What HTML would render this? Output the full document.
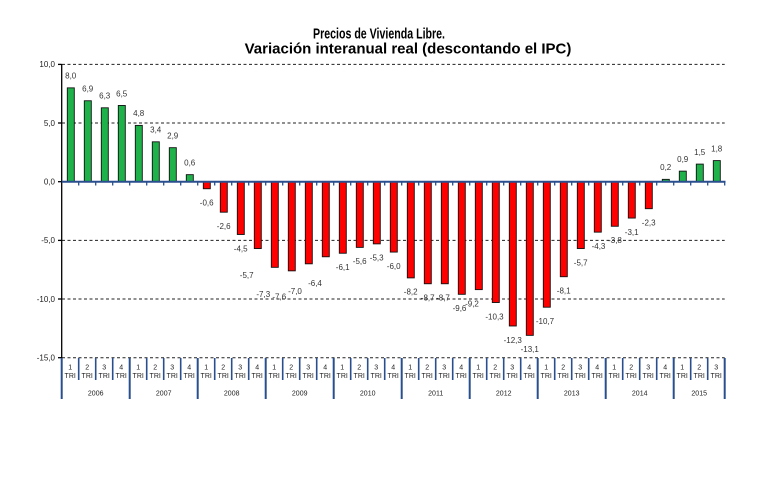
<!DOCTYPE html>
<html><head><meta charset="utf-8"><style>
html,body{margin:0;padding:0;background:#fff;}
svg{display:block;}
text{font-family:"Liberation Sans",Arial,sans-serif;}
.v{font-size:8px;fill:#333;text-anchor:middle;}
.y{font-size:8px;fill:#222;text-anchor:end;}
.q{font-size:7px;fill:#222;text-anchor:middle;}
</style></head><body>
<svg width="770" height="492" viewBox="0 0 770 492" xmlns="http://www.w3.org/2000/svg">
<rect width="770" height="492" fill="#fff"/>
<text x="313" y="38.5" font-size="15" font-weight="bold" fill="#000" textLength="132" lengthAdjust="spacingAndGlyphs">Precios de Vivienda Libre.</text>
<text x="408" y="53.5" font-size="15" font-weight="bold" text-anchor="middle" fill="#000">Variación interanual real (descontando el IPC)</text>

<!-- gridlines -->
<g stroke="#222" stroke-width="1" stroke-dasharray="3,2.5">
<line x1="62" y1="64.4" x2="724.7" y2="64.4"/>
<line x1="62" y1="123" x2="724.7" y2="123"/>
<line x1="62" y1="240.4" x2="724.7" y2="240.4"/>
<line x1="62" y1="299" x2="724.7" y2="299"/>
<line x1="62" y1="357.7" x2="724.7" y2="357.7"/>
</g>

<!-- y axis -->
<g stroke="#000" stroke-width="1.3">
<line x1="61.7" y1="64" x2="61.7" y2="358"/>
<line x1="58" y1="64.4" x2="61.7" y2="64.4"/>
<line x1="58" y1="123" x2="61.7" y2="123"/>
<line x1="58" y1="181.7" x2="61.7" y2="181.7"/>
<line x1="58" y1="240.4" x2="61.7" y2="240.4"/>
<line x1="58" y1="299" x2="61.7" y2="299"/>
<line x1="58" y1="357.7" x2="61.7" y2="357.7"/>
</g>
<text class="y" x="55" y="67.2">10,0</text>
<text class="y" x="55" y="125.8">5,0</text>
<text class="y" x="55" y="184.5">0,0</text>
<text class="y" x="55" y="243.2">-5,0</text>
<text class="y" x="55" y="301.8">-10,0</text>
<text class="y" x="55" y="360.5">-15,0</text>

<!-- bars -->
<g stroke="#111" stroke-width="0.9">
<g fill="#1fb24a">
<rect x="67.3" y="87.86" width="7" height="93.84"/>
<rect x="84.3" y="100.76" width="7" height="80.94"/>
<rect x="101.3" y="107.8" width="7" height="73.9"/>
<rect x="118.3" y="105.45" width="7" height="76.25"/>
<rect x="135.3" y="125.4" width="7" height="56.3"/>
<rect x="152.3" y="141.82" width="7" height="39.88"/>
<rect x="169.3" y="147.68" width="7" height="34.02"/>
<rect x="186.3" y="174.66" width="7" height="7.04"/>
<rect x="662.3" y="179.35" width="7" height="2.35"/>
<rect x="679.3" y="171.14" width="7" height="10.56"/>
<rect x="696.3" y="164.1" width="7" height="17.6"/>
<rect x="713.3" y="160.59" width="7" height="21.11"/>
</g>
<g fill="#ff0000">
<rect x="203.3" y="181.7" width="7" height="7.04"/>
<rect x="220.3" y="181.7" width="7" height="30.5"/>
<rect x="237.3" y="181.7" width="7" height="52.79"/>
<rect x="254.3" y="181.7" width="7" height="66.86"/>
<rect x="271.3" y="181.7" width="7" height="85.63"/>
<rect x="288.3" y="181.7" width="7" height="89.15"/>
<rect x="305.3" y="181.7" width="7" height="82.11"/>
<rect x="322.3" y="181.7" width="7" height="75.07"/>
<rect x="339.3" y="181.7" width="7" height="71.55"/>
<rect x="356.3" y="181.7" width="7" height="65.69"/>
<rect x="373.3" y="181.7" width="7" height="62.17"/>
<rect x="390.3" y="181.7" width="7" height="70.38"/>
<rect x="407.3" y="181.7" width="7" height="96.19"/>
<rect x="424.3" y="181.7" width="7" height="102.05"/>
<rect x="441.3" y="181.7" width="7" height="102.05"/>
<rect x="458.3" y="181.7" width="7" height="112.61"/>
<rect x="475.3" y="181.7" width="7" height="107.92"/>
<rect x="492.3" y="181.7" width="7" height="120.82"/>
<rect x="509.3" y="181.7" width="7" height="144.28"/>
<rect x="526.3" y="181.7" width="7" height="153.66"/>
<rect x="543.3" y="181.7" width="7" height="125.51"/>
<rect x="560.3" y="181.7" width="7" height="95.01"/>
<rect x="577.3" y="181.7" width="7" height="66.86"/>
<rect x="594.3" y="181.7" width="7" height="50.44"/>
<rect x="611.3" y="181.7" width="7" height="44.57"/>
<rect x="628.3" y="181.7" width="7" height="36.36"/>
<rect x="645.3" y="181.7" width="7" height="26.98"/>
</g>
</g>

<!-- zero line -->
<line x1="61.7" y1="181.7" x2="725.5" y2="181.7" stroke="#2a4f8f" stroke-width="2"/>
<g stroke="#2a4f8f" stroke-width="1.3">
<line x1="78.7" y1="182" x2="78.7" y2="185.5"/><line x1="95.7" y1="182" x2="95.7" y2="185.5"/><line x1="112.7" y1="182" x2="112.7" y2="185.5"/><line x1="129.7" y1="182" x2="129.7" y2="185.5"/><line x1="146.7" y1="182" x2="146.7" y2="185.5"/><line x1="163.7" y1="182" x2="163.7" y2="185.5"/><line x1="180.7" y1="182" x2="180.7" y2="185.5"/><line x1="197.7" y1="182" x2="197.7" y2="185.5"/><line x1="214.7" y1="182" x2="214.7" y2="185.5"/><line x1="231.7" y1="182" x2="231.7" y2="185.5"/><line x1="248.7" y1="182" x2="248.7" y2="185.5"/><line x1="265.7" y1="182" x2="265.7" y2="185.5"/><line x1="282.7" y1="182" x2="282.7" y2="185.5"/><line x1="299.7" y1="182" x2="299.7" y2="185.5"/><line x1="316.7" y1="182" x2="316.7" y2="185.5"/><line x1="333.7" y1="182" x2="333.7" y2="185.5"/><line x1="350.7" y1="182" x2="350.7" y2="185.5"/><line x1="367.7" y1="182" x2="367.7" y2="185.5"/><line x1="384.7" y1="182" x2="384.7" y2="185.5"/><line x1="401.7" y1="182" x2="401.7" y2="185.5"/><line x1="418.7" y1="182" x2="418.7" y2="185.5"/><line x1="435.7" y1="182" x2="435.7" y2="185.5"/><line x1="452.7" y1="182" x2="452.7" y2="185.5"/><line x1="469.7" y1="182" x2="469.7" y2="185.5"/><line x1="486.7" y1="182" x2="486.7" y2="185.5"/><line x1="503.7" y1="182" x2="503.7" y2="185.5"/><line x1="520.7" y1="182" x2="520.7" y2="185.5"/><line x1="537.7" y1="182" x2="537.7" y2="185.5"/><line x1="554.7" y1="182" x2="554.7" y2="185.5"/><line x1="571.7" y1="182" x2="571.7" y2="185.5"/><line x1="588.7" y1="182" x2="588.7" y2="185.5"/><line x1="605.7" y1="182" x2="605.7" y2="185.5"/><line x1="622.7" y1="182" x2="622.7" y2="185.5"/><line x1="639.7" y1="182" x2="639.7" y2="185.5"/><line x1="656.7" y1="182" x2="656.7" y2="185.5"/><line x1="673.7" y1="182" x2="673.7" y2="185.5"/><line x1="690.7" y1="182" x2="690.7" y2="185.5"/><line x1="707.7" y1="182" x2="707.7" y2="185.5"/><line x1="724.7" y1="182" x2="724.7" y2="185.5"/>
</g>

<!-- value labels -->
<text class="v" x="70.7" y="78.7">8,0</text>
<text class="v" x="87.7" y="91.6">6,9</text>
<text class="v" x="104.7" y="98.6">6,3</text>
<text class="v" x="121.7" y="96.3">6,5</text>
<text class="v" x="138.7" y="116.2">4,8</text>
<text class="v" x="155.7" y="132.6">3,4</text>
<text class="v" x="172.7" y="138.5">2,9</text>
<text class="v" x="189.7" y="165.5">0,6</text>
<text class="v" x="206.7" y="205.5">-0,6</text>
<text class="v" x="223.7" y="229.0">-2,6</text>
<text class="v" x="240.7" y="251.3">-4,5</text>
<text class="v" x="246.7" y="277.8">-5,7</text>
<text class="v" x="263.3" y="297.1">-7,3</text>
<text class="v" x="279.3" y="299.5">-7,6</text>
<text class="v" x="295" y="293.8">-7,0</text>
<text class="v" x="315" y="286.1">-6,4</text>
<text class="v" x="342.7" y="270.1">-6,1</text>
<text class="v" x="359.7" y="264.2">-5,6</text>
<text class="v" x="376.7" y="260.7">-5,3</text>
<text class="v" x="393.7" y="268.9">-6,0</text>
<text class="v" x="410.7" y="294.7">-8,2</text>
<text class="v" x="427.7" y="300.5">-8,7</text>
<text class="v" x="443" y="300.5">-8,7</text>
<text class="v" x="459.5" y="311.1">-9,6</text>
<text class="v" x="472" y="306.4">-9,2</text>
<text class="v" x="494.5" y="319.3">-10,3</text>
<text class="v" x="512.7" y="342.8">-12,3</text>
<text class="v" x="529.7" y="352.2">-13,1</text>
<text class="v" x="545" y="324.0">-10,7</text>
<text class="v" x="563.7" y="293.5">-8,1</text>
<text class="v" x="580.7" y="265.4">-5,7</text>
<text class="v" x="598.5" y="248.9">-4,3</text>
<text class="v" x="615" y="243.1">-3,8</text>
<text class="v" x="631.7" y="234.9">-3,1</text>
<text class="v" x="648.7" y="225.5">-2,3</text>
<text class="v" x="665.7" y="170.2">0,2</text>
<text class="v" x="682.7" y="161.9">0,9</text>
<text class="v" x="699.7" y="154.9">1,5</text>
<text class="v" x="716.7" y="151.4">1,8</text>

<!-- category separators -->
<g stroke="#2a4f8f" stroke-width="2">
<line x1="61.7" y1="358" x2="61.7" y2="399"/>
<line x1="129.7" y1="358" x2="129.7" y2="399"/>
<line x1="197.7" y1="358" x2="197.7" y2="399"/>
<line x1="265.7" y1="358" x2="265.7" y2="399"/>
<line x1="333.7" y1="358" x2="333.7" y2="399"/>
<line x1="401.7" y1="358" x2="401.7" y2="399"/>
<line x1="469.7" y1="358" x2="469.7" y2="399"/>
<line x1="537.7" y1="358" x2="537.7" y2="399"/>
<line x1="605.7" y1="358" x2="605.7" y2="399"/>
<line x1="673.7" y1="358" x2="673.7" y2="399"/>
<line x1="724.7" y1="358" x2="724.7" y2="399"/>
</g>
<g stroke="#2a4f8f" stroke-width="1.6">
<line x1="78.7" y1="358" x2="78.7" y2="380"/><line x1="95.7" y1="358" x2="95.7" y2="380"/><line x1="112.7" y1="358" x2="112.7" y2="380"/>
<line x1="146.7" y1="358" x2="146.7" y2="380"/><line x1="163.7" y1="358" x2="163.7" y2="380"/><line x1="180.7" y1="358" x2="180.7" y2="380"/>
<line x1="214.7" y1="358" x2="214.7" y2="380"/><line x1="231.7" y1="358" x2="231.7" y2="380"/><line x1="248.7" y1="358" x2="248.7" y2="380"/>
<line x1="282.7" y1="358" x2="282.7" y2="380"/><line x1="299.7" y1="358" x2="299.7" y2="380"/><line x1="316.7" y1="358" x2="316.7" y2="380"/>
<line x1="350.7" y1="358" x2="350.7" y2="380"/><line x1="367.7" y1="358" x2="367.7" y2="380"/><line x1="384.7" y1="358" x2="384.7" y2="380"/>
<line x1="418.7" y1="358" x2="418.7" y2="380"/><line x1="435.7" y1="358" x2="435.7" y2="380"/><line x1="452.7" y1="358" x2="452.7" y2="380"/>
<line x1="486.7" y1="358" x2="486.7" y2="380"/><line x1="503.7" y1="358" x2="503.7" y2="380"/><line x1="520.7" y1="358" x2="520.7" y2="380"/>
<line x1="554.7" y1="358" x2="554.7" y2="380"/><line x1="571.7" y1="358" x2="571.7" y2="380"/><line x1="588.7" y1="358" x2="588.7" y2="380"/>
<line x1="622.7" y1="358" x2="622.7" y2="380"/><line x1="639.7" y1="358" x2="639.7" y2="380"/><line x1="656.7" y1="358" x2="656.7" y2="380"/>
<line x1="690.7" y1="358" x2="690.7" y2="380"/><line x1="707.7" y1="358" x2="707.7" y2="380"/>
</g>

<!-- quarter labels -->
<g>
<text class="q" x="70.2" y="369.5">1</text><text class="q" x="87.2" y="369.5">2</text><text class="q" x="104.2" y="369.5">3</text><text class="q" x="121.2" y="369.5">4</text>
<text class="q" x="138.2" y="369.5">1</text><text class="q" x="155.2" y="369.5">2</text><text class="q" x="172.2" y="369.5">3</text><text class="q" x="189.2" y="369.5">4</text>
<text class="q" x="206.2" y="369.5">1</text><text class="q" x="223.2" y="369.5">2</text><text class="q" x="240.2" y="369.5">3</text><text class="q" x="257.2" y="369.5">4</text>
<text class="q" x="274.2" y="369.5">1</text><text class="q" x="291.2" y="369.5">2</text><text class="q" x="308.2" y="369.5">3</text><text class="q" x="325.2" y="369.5">4</text>
<text class="q" x="342.2" y="369.5">1</text><text class="q" x="359.2" y="369.5">2</text><text class="q" x="376.2" y="369.5">3</text><text class="q" x="393.2" y="369.5">4</text>
<text class="q" x="410.2" y="369.5">1</text><text class="q" x="427.2" y="369.5">2</text><text class="q" x="444.2" y="369.5">3</text><text class="q" x="461.2" y="369.5">4</text>
<text class="q" x="478.2" y="369.5">1</text><text class="q" x="495.2" y="369.5">2</text><text class="q" x="512.2" y="369.5">3</text><text class="q" x="529.2" y="369.5">4</text>
<text class="q" x="546.2" y="369.5">1</text><text class="q" x="563.2" y="369.5">2</text><text class="q" x="580.2" y="369.5">3</text><text class="q" x="597.2" y="369.5">4</text>
<text class="q" x="614.2" y="369.5">1</text><text class="q" x="631.2" y="369.5">2</text><text class="q" x="648.2" y="369.5">3</text><text class="q" x="665.2" y="369.5">4</text>
<text class="q" x="682.2" y="369.5">1</text><text class="q" x="699.2" y="369.5">2</text><text class="q" x="716.2" y="369.5">3</text>
</g>
<g>
<text class="q" x="70.2" y="378">TRI</text><text class="q" x="87.2" y="378">TRI</text><text class="q" x="104.2" y="378">TRI</text><text class="q" x="121.2" y="378">TRI</text>
<text class="q" x="138.2" y="378">TRI</text><text class="q" x="155.2" y="378">TRI</text><text class="q" x="172.2" y="378">TRI</text><text class="q" x="189.2" y="378">TRI</text>
<text class="q" x="206.2" y="378">TRI</text><text class="q" x="223.2" y="378">TRI</text><text class="q" x="240.2" y="378">TRI</text><text class="q" x="257.2" y="378">TRI</text>
<text class="q" x="274.2" y="378">TRI</text><text class="q" x="291.2" y="378">TRI</text><text class="q" x="308.2" y="378">TRI</text><text class="q" x="325.2" y="378">TRI</text>
<text class="q" x="342.2" y="378">TRI</text><text class="q" x="359.2" y="378">TRI</text><text class="q" x="376.2" y="378">TRI</text><text class="q" x="393.2" y="378">TRI</text>
<text class="q" x="410.2" y="378">TRI</text><text class="q" x="427.2" y="378">TRI</text><text class="q" x="444.2" y="378">TRI</text><text class="q" x="461.2" y="378">TRI</text>
<text class="q" x="478.2" y="378">TRI</text><text class="q" x="495.2" y="378">TRI</text><text class="q" x="512.2" y="378">TRI</text><text class="q" x="529.2" y="378">TRI</text>
<text class="q" x="546.2" y="378">TRI</text><text class="q" x="563.2" y="378">TRI</text><text class="q" x="580.2" y="378">TRI</text><text class="q" x="597.2" y="378">TRI</text>
<text class="q" x="614.2" y="378">TRI</text><text class="q" x="631.2" y="378">TRI</text><text class="q" x="648.2" y="378">TRI</text><text class="q" x="665.2" y="378">TRI</text>
<text class="q" x="682.2" y="378">TRI</text><text class="q" x="699.2" y="378">TRI</text><text class="q" x="716.2" y="378">TRI</text>
</g>
<g>
<text class="q" x="95.7" y="395.5">2006</text>
<text class="q" x="163.7" y="395.5">2007</text>
<text class="q" x="231.7" y="395.5">2008</text>
<text class="q" x="299.7" y="395.5">2009</text>
<text class="q" x="367.7" y="395.5">2010</text>
<text class="q" x="435.7" y="395.5">2011</text>
<text class="q" x="503.7" y="395.5">2012</text>
<text class="q" x="571.7" y="395.5">2013</text>
<text class="q" x="639.7" y="395.5">2014</text>
<text class="q" x="699.2" y="395.5">2015</text>
</g>
</svg>
</body></html>
